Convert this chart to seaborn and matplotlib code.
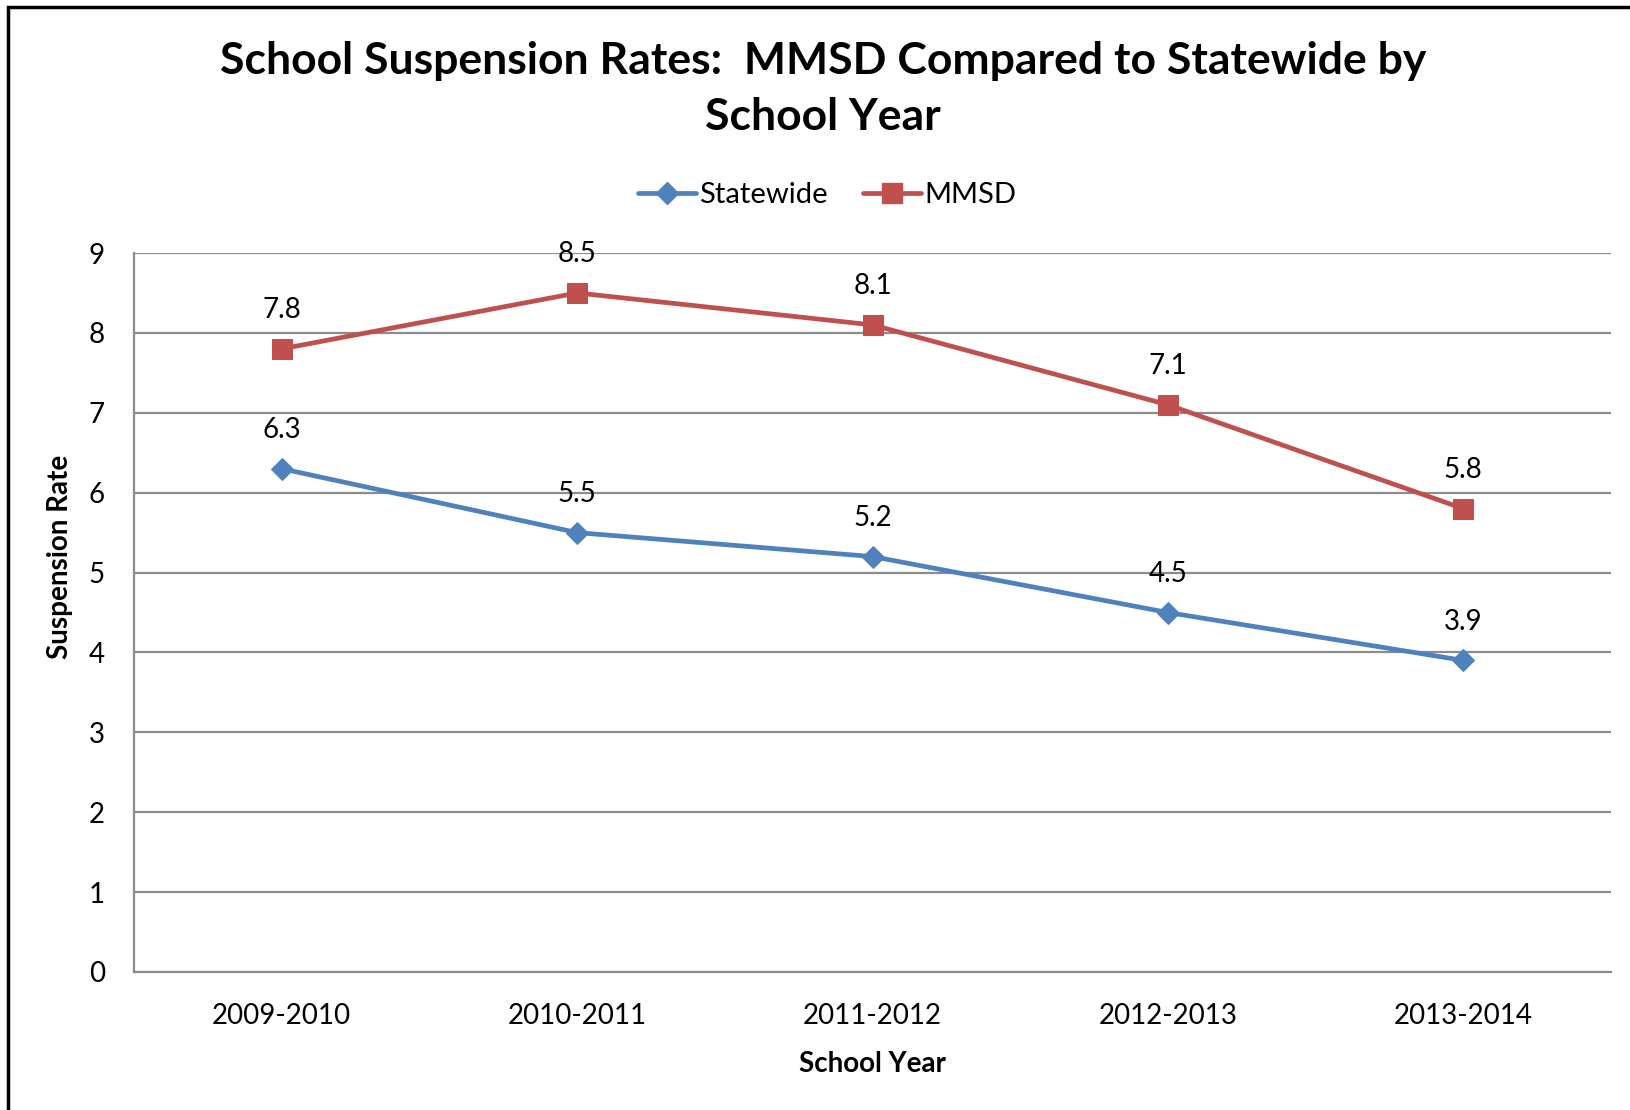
import pandas as pd
import seaborn as sns
import matplotlib

matplotlib.use("Agg")
import matplotlib.pyplot as plt
from matplotlib.lines import Line2D
from matplotlib.patches import Rectangle

# Data.
years = ["2009-2010", "2010-2011", "2011-2012", "2012-2013", "2013-2014"]
statewide = [6.3, 5.5, 5.2, 4.5, 3.9]
mmsd = [7.8, 8.5, 8.1, 7.1, 5.8]
series_names = ["Statewide", "MMSD"]
yticks = [0, 1, 2, 3, 4, 5, 6, 7, 8, 9]

palette = {"Statewide": "#4F81BD", "MMSD": "#C0504D"}
markers = {"Statewide": "D", "MMSD": "s"}
marker_sizes = {"Statewide": 11, "MMSD": 14}

df = pd.DataFrame(
    {
        "School Year": years * 2,
        "idx": list(range(len(years))) * 2,
        "Suspension Rate": statewide + mmsd,
        "Series": ["Statewide"] * len(years) + ["MMSD"] * len(years),
    }
)

sns.set_style("white")
plt.rcParams["font.family"] = ["Lato", "DejaVu Sans"]
plt.rcParams["text.color"] = "black"
plt.rcParams["axes.labelcolor"] = "black"
plt.rcParams["xtick.labelcolor"] = "black"
plt.rcParams["ytick.labelcolor"] = "black"

fig = plt.figure(figsize=(16.3, 11.1), dpi=100)
ax = fig.add_axes([134 / 1630, 1 - 972 / 1110, (1611 - 134) / 1630, (972 - 253) / 1110])

for name in series_names:
    sub = df[df["Series"] == name]
    sns.lineplot(
        data=sub,
        x="idx",
        y="Suspension Rate",
        color=palette[name],
        marker=markers[name],
        markersize=marker_sizes[name],
        markeredgecolor=palette[name],
        linewidth=3.4,
        estimator=None,
        legend=False,
        ax=ax,
        zorder=3,
    )
    for xi, yi in zip(sub["idx"], sub["Suspension Rate"]):
        ax.annotate(
            "{:.1f}".format(yi),
            (xi, yi),
            xytext=(0, 28),
            textcoords="offset points",
            ha="center",
            va="center",
            fontsize=20,
            color="black",
        )

ax.set_xlim(-0.5, len(years) - 0.5)
ax.set_ylim(0, 9)
ax.set_yticks(yticks)
ax.set_xticks(range(len(years)))
ax.set_xticklabels(years)
ax.set_xticks([i - 0.5 for i in range(len(years) + 1)], minor=True)
ax.grid(axis="y", color="#8C8C8C", linewidth=1.6, zorder=0)

for side in ["top", "right"]:
    ax.spines[side].set_visible(False)
for side in ["left", "bottom"]:
    ax.spines[side].set_color("#8C8C8C")
    ax.spines[side].set_linewidth(1.6)

ax.tick_params(axis="x", which="major", length=0, pad=22, labelsize=20)
ax.tick_params(axis="x", which="minor", length=8, width=1.6, color="#8C8C8C", direction="out")
ax.tick_params(axis="y", length=7, width=1.6, color="#8C8C8C", pad=14, labelsize=20)

ax.set_xlabel("School Year", fontsize=20, fontweight="bold", labelpad=16)
ax.set_ylabel("Suspension Rate", fontsize=20, fontweight="bold")
ax.yaxis.set_label_coords(-0.041, 0.577)

fig.text(
    823 / 1630,
    1 - 89 / 1110,
    "School Suspension Rates:  MMSD Compared to Statewide by\nSchool Year",
    ha="center",
    va="center",
    fontsize=32,
    fontweight="bold",
    linespacing=1.5,
)

handles = [
    Line2D([0], [0], color=palette[n], linewidth=3.4, marker=markers[n],
           markersize=marker_sizes[n], markeredgecolor=palette[n], label=n)
    for n in series_names
]
fig.legend(
    handles=handles,
    loc="center",
    bbox_to_anchor=(827 / 1630, 1 - 195 / 1110),
    ncol=2,
    frameon=False,
    fontsize=21,
    handlelength=2.0,
    handletextpad=0.1,
    columnspacing=1.2,
)

# Chart border (left and top edges visible in the reference).
fig.patches.append(
    Rectangle((8 / 1630, -0.1), 1.2, 1.1 - 7 / 1110, transform=fig.transFigure,
              fill=False, edgecolor="black", linewidth=2.5)
)

fig.savefig("out.png", dpi=100)
plt.close()
